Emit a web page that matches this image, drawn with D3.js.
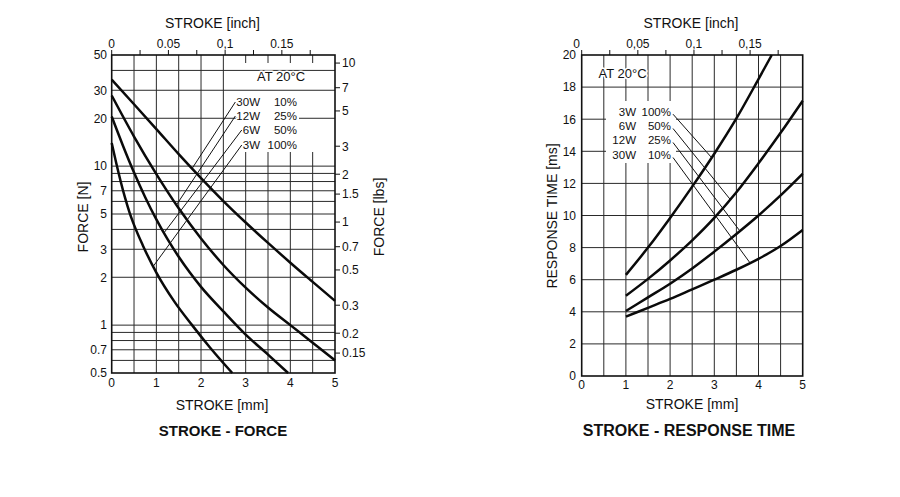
<!DOCTYPE html>
<html><head><meta charset="utf-8">
<script src="https://cdn.jsdelivr.net/npm/d3@7"></script>
<style>
body{margin:0;background:#fff;}
svg{font-family:"Liberation Sans",Arial,sans-serif;fill:#111;}
.halo{paint-order:stroke;stroke:#fff;stroke-width:3px;stroke-linejoin:round;}
</style></head><body>
<svg id="chart" width="900" height="497"></svg>
<script>
// ---------- DATA ----------
// STROKE - FORCE : [stroke mm, force N]
const force30W = [[0,35],[0.5,24.5],[1,17.1],[1.5,11.9],[2,8.41],[2.5,6.03],[3,4.42],[3.5,3.29],[4,2.47],[4.5,1.87],[5,1.42]];
const force12W = [[0,27.8],[0.5,15.35],[1,8.91],[1.5,5.43],[2,3.51],[2.5,2.39],[3,1.72],[3.5,1.29],[4,1.0],[4.5,0.776],[5,0.6]];
const force6W  = [[0,20.5],[0.25,13.5],[0.5,9.12],[0.75,6.38],[1,4.62],[1.25,3.47],[1.5,2.69],[1.75,2.14],[2,1.74],[2.5,1.22],[3,0.871],[3.5,0.653],[3.95,0.5]];
const force3W  = [[0,14],[0.1,10.5],[0.2,8.04],[0.3,6.31],[0.4,5.1],[0.5,4.27],[0.7,3.16],[1,2.14],[1.4,1.41],[1.8,1.0],[2.2,0.724],[2.7,0.5]];
const forceWatts = ["30W","12W","6W","3W"];
const forceDuty  = ["10%","25%","50%","100%"];
const forceLeaderAt = [1.8,1.45,1.17,0.93];      // stroke (mm) where each leader meets its curve
const forceTicksN   = [0.5,0.7,1,2,3,5,7,10,20,30,50];
const forceGridN    = [0.6,0.7,0.8,0.9,1,2,3,4,5,6,7,8,9,10,20,30,40];
const forceTicksLbs = [0.15,0.2,0.3,0.5,0.7,1,1.5,2,3,5,7,10];

// STROKE - RESPONSE TIME : [stroke mm, time ms]
const resp3W  = [[1,6.3],[1.5,8.0],[2,9.85],[2.5,11.8],[3,13.85],[3.5,16.05],[4,18.5],[4.3,20]];
const resp6W  = [[1,5.0],[1.5,6.05],[2,7.2],[2.5,8.45],[3,9.85],[3.5,11.45],[4,13.25],[4.5,15.15],[5,17.15]];
const resp12W = [[1,4.05],[1.5,4.9],[2,5.75],[2.5,6.7],[3,7.75],[3.5,8.85],[4,10.0],[4.5,11.25],[5,12.6]];
const resp30W = [[1,3.7],[1.5,4.25],[2,4.8],[2.5,5.4],[3,6.0],[3.5,6.62],[4,7.3],[4.5,8.1],[5,9.1]];
const respWatts = ["3W","6W","12W","30W"];
const respDuty  = ["100%","50%","25%","10%"];
const respLeaderAt = [2.94,3.36,3.58,3.81];
const timeTicks = [0,2,4,6,8,10,12,14,16,18,20];

const strokeTicksMm   = [0,1,2,3,4,5];
const strokeGridMm    = [0.5,1,1.5,2,2.5,3,3.5,4,4.5];
const inchTicks       = [0,0.05,0.1,0.15];
const inchMinorTicks  = [0.025,0.075,0.125,0.175];
const inchLabelsLeft  = ["0","0.05","0,1","0.15"];
const inchLabelsRight = ["0","0,05","0,1","0,15"];
const MM_PER_INCH = 25.4, N_PER_LBF = 4.448;

// ---------- HELPERS ----------
const svg = d3.select("#chart");
function interpAt(series, x, log){
  for(let i=0;i<series.length-1;i++){
    const a=series[i], b=series[i+1];
    if(x>=a[0] && x<=b[0]){
      const t=(x-a[0])/(b[0]-a[0]);
      return log ? Math.pow(10, Math.log10(a[1])+t*(Math.log10(b[1])-Math.log10(a[1]))) : a[1]+t*(b[1]-a[1]);
    }
  }
  return series[series.length-1][1];
}
const GRID="#2a2a2a";

// ================= LEFT CHART =================
const xL = d3.scaleLinear().domain([0,5]).range([111.7,335]);
const yL = d3.scaleLog().domain([0.5,50]).range([373,55]);
const L = svg.append("g");

L.selectAll(".vg").data(strokeGridMm).join("line")
  .attr("x1",d=>xL(d)).attr("x2",d=>xL(d)).attr("y1",yL(50)).attr("y2",yL(0.5))
  .attr("stroke",GRID).attr("stroke-width",1);
// label block background (hides vertical grid)
L.append("rect").attr("x",232).attr("y",63).attr("width",99).attr("height",89).attr("fill","#fff");
L.selectAll(".hg").data(forceGridN).join("line")
  .attr("x1",xL(0)).attr("x2",xL(5)).attr("y1",d=>yL(d)).attr("y2",d=>yL(d))
  .attr("stroke",GRID).attr("stroke-width",1);
// legend rows background (hides horizontal grid between columns)
L.append("rect").attr("x",239).attr("y",95).attr("width",60).attr("height",57).attr("fill","#fff");
L.append("rect").attr("x",xL(0)).attr("y",yL(50)).attr("width",xL(5)-xL(0)).attr("height",yL(0.5)-yL(50))
  .attr("fill","none").attr("stroke","#111").attr("stroke-width",1.6);

// top inch ticks
L.selectAll(".it").data(inchTicks.concat(inchMinorTicks)).join("line")
  .attr("x1",d=>xL(d*MM_PER_INCH)).attr("x2",d=>xL(d*MM_PER_INCH)).attr("y1",yL(50)).attr("y2",yL(50)-5)
  .attr("stroke","#111").attr("stroke-width",1);
L.selectAll(".il").data(inchTicks).join("text")
  .attr("x",d=>xL(d*MM_PER_INCH)).attr("y",48).attr("text-anchor","middle").attr("font-size",12)
  .text((d,i)=>inchLabelsLeft[i]);
// left N labels
L.selectAll(".nl").data(forceTicksN).join("text")
  .attr("x",107).attr("y",d=>yL(d)).attr("dy","0.36em").attr("text-anchor","end").attr("font-size",12)
  .text(d=>d);
// right lbs ticks
L.selectAll(".lt").data(forceTicksLbs).join("line")
  .attr("x1",xL(5)).attr("x2",xL(5)+5).attr("y1",d=>yL(d*N_PER_LBF)).attr("y2",d=>yL(d*N_PER_LBF))
  .attr("stroke","#111").attr("stroke-width",1);
L.selectAll(".ll").data(forceTicksLbs).join("text")
  .attr("x",xL(5)+7).attr("y",d=>yL(d*N_PER_LBF)).attr("dy","0.36em").attr("font-size",12)
  .text(d=>d);
// bottom mm labels
L.selectAll(".ml").data(strokeTicksMm).join("text")
  .attr("x",d=>xL(d)).attr("y",387).attr("text-anchor","middle").attr("font-size",12).text(d=>d);

// curves
const lineL = d3.line().x(d=>xL(d[0])).y(d=>yL(d[1])).curve(d3.curveMonotoneX);
const forceCurves=[force30W,force12W,force6W,force3W];
L.selectAll(".fc").data(forceCurves).join("path")
  .attr("d",lineL).attr("fill","none").attr("stroke","#0a0a0a").attr("stroke-width",2.5);

// legend
L.append("text").attr("class","halo").attr("x",281).attr("y",80.5).attr("text-anchor","middle")
  .attr("font-size",13).text("AT 20°C");
const rowL=[106,120,134,149];
const wL = L.selectAll(".lw").data(forceWatts).join("text").attr("class","halo")
  .attr("x",260).attr("y",(d,i)=>rowL[i]).attr("text-anchor","end").attr("font-size",11.5).text(d=>d);
L.selectAll(".lp").data(forceDuty).join("text").attr("class","halo")
  .attr("x",297).attr("y",(d,i)=>rowL[i]).attr("text-anchor","end").attr("font-size",11.5).text(d=>d);
wL.each(function(d,i){
  const len=this.getComputedTextLength();
  const xs=260-len-1, ys=rowL[i]-4;
  const xe=xL(forceLeaderAt[i]), ye=yL(interpAt(forceCurves[i],forceLeaderAt[i],true));
  L.append("line").attr("x1",xs).attr("y1",ys).attr("x2",xe).attr("y2",ye)
    .attr("stroke","#111").attr("stroke-width",1);
});

// titles
L.append("text").attr("x",212.5).attr("y",28).attr("text-anchor","middle").attr("font-size",14).text("STROKE [inch]");
L.append("text").attr("x",222).attr("y",410).attr("text-anchor","middle").attr("font-size",14).text("STROKE [mm]");
L.append("text").attr("x",223).attr("y",436).attr("text-anchor","middle").attr("font-size",15).attr("font-weight","bold").text("STROKE - FORCE");
L.append("text").attr("transform","translate(88,217) rotate(-90)").attr("text-anchor","middle").attr("font-size",14).text("FORCE [N]");
L.append("text").attr("transform","translate(384,217) rotate(-90)").attr("text-anchor","middle").attr("font-size",14).text("FORCE [lbs]");

// ================= RIGHT CHART =================
const xR = d3.scaleLinear().domain([0,5]).range([581.7,802.7]);
const yR = d3.scaleLinear().domain([0,20]).range([376,55]);
const R = svg.append("g");
R.selectAll(".vg").data(strokeGridMm).join("line")
  .attr("x1",d=>xR(d)).attr("x2",d=>xR(d)).attr("y1",yR(20)).attr("y2",yR(0))
  .attr("stroke",GRID).attr("stroke-width",1);
R.selectAll(".hg").data(timeTicks.slice(1,-1)).join("line")
  .attr("x1",xR(0)).attr("x2",xR(5)).attr("y1",d=>yR(d)).attr("y2",d=>yR(d))
  .attr("stroke",GRID).attr("stroke-width",1);
R.append("rect").attr("x",606).attr("y",101).attr("width",70).attr("height",62).attr("fill","#fff");
R.append("rect").attr("x",xR(0)).attr("y",yR(20)).attr("width",xR(5)-xR(0)).attr("height",yR(0)-yR(20))
  .attr("fill","none").attr("stroke","#111").attr("stroke-width",1.6);

R.selectAll(".it").data(inchTicks.concat(inchMinorTicks)).join("line")
  .attr("x1",d=>xR(d*MM_PER_INCH)).attr("x2",d=>xR(d*MM_PER_INCH)).attr("y1",yR(20)).attr("y2",yR(20)-5)
  .attr("stroke","#111").attr("stroke-width",1);
R.selectAll(".il").data(inchTicks).join("text")
  .attr("x",d=>xR(d*MM_PER_INCH)-(d===0?5:0)).attr("y",48).attr("text-anchor","middle").attr("font-size",12)
  .text((d,i)=>inchLabelsRight[i]);
R.selectAll(".tl").data(timeTicks).join("text")
  .attr("x",576).attr("y",d=>yR(d)).attr("dy","0.36em").attr("text-anchor","end").attr("font-size",12).text(d=>d);
R.selectAll(".ml").data(strokeTicksMm).join("text")
  .attr("x",d=>xR(d)).attr("y",389).attr("text-anchor","middle").attr("font-size",12).text(d=>d);

const lineR = d3.line().x(d=>xR(d[0])).y(d=>yR(d[1])).curve(d3.curveMonotoneX);
const respCurves=[resp3W,resp6W,resp12W,resp30W];
R.selectAll(".rc").data(respCurves).join("path")
  .attr("d",lineR).attr("fill","none").attr("stroke","#0a0a0a").attr("stroke-width",2.5);

R.append("text").attr("class","halo").attr("x",622.5).attr("y",77.5).attr("text-anchor","middle")
  .attr("font-size",13).text("AT 20°C");
const rowR=[115.7,130,144,159];
R.selectAll(".lw").data(respWatts).join("text").attr("class","halo")
  .attr("x",636).attr("y",(d,i)=>rowR[i]).attr("text-anchor","end").attr("font-size",11.5).text(d=>d);
R.selectAll(".lp").data(respDuty).join("text").attr("class","halo")
  .attr("x",671).attr("y",(d,i)=>rowR[i]).attr("text-anchor","end").attr("font-size",11.5).text(d=>d);
respLeaderAt.forEach((xv,i)=>{
  R.append("line").attr("x1",673).attr("y1",rowR[i]-1.5)
    .attr("x2",xR(xv)).attr("y2",yR(interpAt(respCurves[i],xv,false)))
    .attr("stroke","#111").attr("stroke-width",1);
});

R.append("text").attr("x",691).attr("y",28).attr("text-anchor","middle").attr("font-size",14).text("STROKE [inch]");
R.append("text").attr("x",692).attr("y",409).attr("text-anchor","middle").attr("font-size",14).text("STROKE [mm]");
R.append("text").attr("x",689).attr("y",436).attr("text-anchor","middle").attr("font-size",16).attr("font-weight","bold").text("STROKE - RESPONSE TIME");
R.append("text").attr("transform","translate(557,216) rotate(-90)").attr("text-anchor","middle").attr("font-size",14).text("RESPONSE TIME [ms]");
</script>
</body></html>
